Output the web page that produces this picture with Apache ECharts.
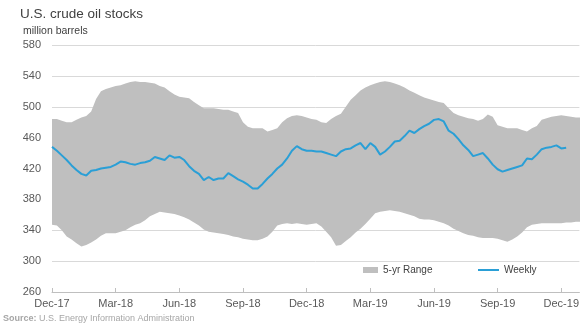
<!DOCTYPE html>
<html>
<head>
<meta charset="utf-8">
<script src="https://cdn.jsdelivr.net/npm/echarts@6/dist/echarts.min.js"></script>
<style>
html,body{margin:0;padding:0;background:#fff;}
#chart{width:582px;height:325px;}
</style>
</head>
<body>
<div id="chart"></div>
<script>
// Tick labels (one every 13 weeks, starting Dec-17)
var tickLabels = ["Dec-17","Mar-18","Jun-18","Sep-18","Dec-18","Mar-19","Jun-19","Sep-19","Dec-19"];

// Weekly U.S. crude oil stocks (million barrels), week 0 = early Dec 2017
var weekly = [448,443,437,431,424,418,413,411,417,418,420,421,422,425,429,428,426,425,427,428,
  430,435,433,431,437,434,435,431,423,417,413,405,409,405,407,407,414,410,406,403,
  399,394,394,400,407,413,420,425,433,443,449,445,443,443,442,442,440,438,436,442,
  445,446,450,453,445,453,448,438,442,448,455,456,462,469,466,471,475,478,483,484,
  481,469,465,458,450,444,436,438,440,433,425,419,416,418,420,422,424,433,432,438,
  445,447,448,450,446,447];

// 5-yr range, upper bound
var rangeHigh = [484,484,482,480,480,483,486,488,494,510,520,523,525,527,528,530,532,533,532,532,
  531,530,527,525,520,516,513,512,511,506,502,498,498,498,497,496,496,494,492,480,
  474,472,472,472,468,470,472,480,485,488,489,488,486,484,483,480,479,484,488,491,
  500,509,515,521,525,528,530,532,533,532,530,528,525,521,518,515,512,510,508,506,
  505,498,492,489,487,485,484,482,484,490,487,476,474,472,472,472,470,468,472,475,
  483,485,487,488,489,488,487,486,486];

// 5-yr range, lower bound
var rangeLow = [347,346,340,332,328,323,319,321,324,328,333,336,336,336,338,340,344,347,349,353,
  358,361,364,363,362,361,359,357,354,350,346,341,338,337,336,335,334,332,331,329,
  328,327,327,329,332,338,346,348,349,348,349,348,347,348,349,345,338,331,320,321,
  326,331,337,342,348,355,362,364,365,366,365,364,362,360,358,355,354,354,353,351,
  349,346,342,339,336,334,333,331,330,330,330,329,327,325,328,332,337,344,347,348,
  349,349,349,349,349,350,350,351,351];

var bandData = rangeHigh.map(function(v,i){return [i, rangeLow[i], v];});
var weeklyPairs = weekly.map(function(v,i){return [i,v];});

var chart = echarts.init(document.getElementById('chart'), null, {renderer:'canvas'});
var textColor = '#595959';
var font = 'Liberation Sans, Arial, sans-serif';
var bandColor = '#bfbfbf';

function renderBand(params, api){
  if (params.dataIndex !== 0) return null;
  var pts = [];
  for (var i = 0; i < rangeHigh.length; i++) pts.push(api.coord([i, rangeHigh[i]]));
  for (var j = rangeLow.length - 1; j >= 0; j--) pts.push(api.coord([j, rangeLow[j]]));
  return {type:'polygon', shape:{points:pts}, style:{fill:bandColor, stroke:null}};
}

chart.setOption({
  animation:false,
  backgroundColor:'#fff',
  textStyle:{fontFamily:font},
  title:[
    {text:'U.S. crude oil stocks', left:15, top:2,
     textStyle:{fontSize:13.5, fontWeight:'normal', color:'#404040', fontFamily:font}},
    {text:'million barrels', left:18, top:21,
     textStyle:{fontSize:10.5, fontWeight:'normal', color:'#404040', fontFamily:font}},
    {text:'{b|Source:} U.S. Energy Information Administration', left:-2, top:309,
     textStyle:{fontSize:9, fontWeight:'normal', color:'#a6a6a6', fontFamily:font,
       rich:{b:{fontSize:9, fontWeight:'bold', color:'#a6a6a6', fontFamily:font}}}}
  ],
  legend:[
    {data:['5-yr Range'], left:358, top:260, icon:'rect', itemWidth:15, itemHeight:6,
     textStyle:{fontSize:10, color:'#404040', fontFamily:font}},
    {data:['Weekly'], left:473, top:260, icon:'rect', itemWidth:21, itemHeight:2,
     textStyle:{fontSize:10, color:'#404040', fontFamily:font}}
  ],
  grid:{left:52, right:0, top:45, bottom:33, containLabel:false},
  xAxis:{
    type:'value', min:0, max:107.7, interval:13,
    axisLine:{show:true, lineStyle:{color:'#bfbfbf', width:1}},
    axisTick:{show:true, inside:true, length:4, lineStyle:{color:'#bfbfbf'}},
    splitLine:{show:false},
    axisLabel:{color:textColor, fontSize:11, fontFamily:font, margin:6, showMaxLabel:false,
      formatter:function(v){var k=v/13; return (Math.abs(k-Math.round(k))<1e-6 && tickLabels[Math.round(k)])?tickLabels[Math.round(k)]:'';}}
  },
  yAxis:{
    type:'value', min:260, max:580, interval:40,
    axisLine:{show:false}, axisTick:{show:false},
    splitLine:{show:true, lineStyle:{color:'#d9d9d9', width:1}},
    axisLabel:{color:textColor, fontSize:11, fontFamily:font, margin:11}
  },
  series:[
    {name:'5-yr Range', type:'custom', data:bandData, renderItem:renderBand,
     encode:{x:0, y:[1,2]}, clip:true, silent:true, itemStyle:{color:bandColor}, z:1},
    {name:'Weekly', type:'line', data:weeklyPairs, symbol:'none', showSymbol:false, z:3,
     itemStyle:{color:'#2a9fd6'}, lineStyle:{color:'#2a9fd6', width:2}}
  ]
});
</script>
</body>
</html>
